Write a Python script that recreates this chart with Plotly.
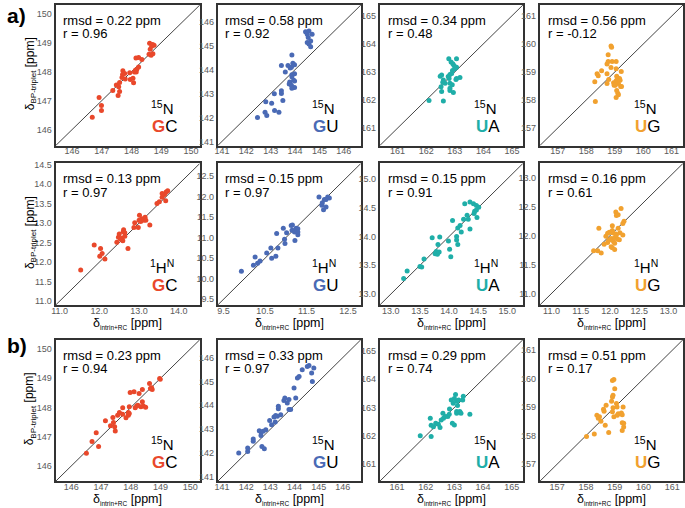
import plotly.graph_objects as go

# ---------------- data ----------------
# a) 15N
a_gc_n_x = [146.68,146.91,146.99,146.99,147.37,147.49,147.55,147.60,147.60,147.57,147.68,147.70,147.71,147.77,147.79,147.94,147.96,148.07,148.05,148.10,148.13,148.16,148.18,148.24,148.15,148.24,148.35,148.61,148.71,148.63,148.59,148.66,148.72,148.76,148.68]
a_gc_n_y = [146.43,147.11,146.83,146.66,147.35,147.54,147.18,147.32,147.63,147.48,147.80,147.90,148.03,147.94,147.75,147.96,147.73,147.62,147.77,147.99,148.05,147.99,148.08,148.16,148.47,148.49,148.42,148.98,148.94,148.77,148.60,148.57,148.62,148.91,148.88]
a_gu_n_x = [142.46,142.77,142.84,142.80,143.04,143.16,143.34,143.15,143.44,143.44,143.50,143.44,143.60,143.71,143.80,143.87,143.91,143.94,143.87,143.87,143.76,143.78,143.94,143.98,143.98,143.87,143.85,143.98,143.98,143.85,144.43,144.50,144.57,144.54,144.50,144.57,144.64,144.64,144.70]
a_gu_n_y = [142.00,142.22,142.09,142.66,142.60,142.29,142.22,142.99,143.12,143.01,142.71,144.17,143.90,144.17,144.07,144.61,144.27,144.20,143.79,143.70,143.40,143.49,143.56,143.53,143.26,143.22,143.35,143.83,144.21,144.10,145.58,145.48,145.61,145.34,145.13,145.07,144.96,145.20,145.48]
a_ua_n_x = [162.10,162.60,162.54,162.52,162.49,162.54,162.60,162.58,162.66,162.80,162.83,162.83,162.83,162.95,162.79,162.87,162.93,163.06,163.06,163.00,162.92,162.83,162.77,162.89,163.06,163.18,163.04,162.91,162.97]
a_ua_n_y = [161.98,161.97,162.30,162.47,162.85,162.89,162.71,162.63,162.60,162.77,162.60,162.42,162.34,162.27,163.47,163.35,163.29,163.47,163.17,163.11,163.05,162.91,162.84,162.94,162.77,162.80,162.73,162.54,163.23]
a_ug_n_x = [158.32,158.30,158.38,158.42,158.54,158.73,158.73,158.79,158.73,158.77,158.91,158.87,158.77,158.87,158.89,159.05,159.05,158.96,158.98,159.05,159.07,159.10,159.17,159.19,159.23,159.13,159.21,159.07,159.11,159.13,159.05,159.24,159.02]
a_ug_n_y = [157.95,158.65,158.94,158.87,159.05,158.94,158.59,158.73,159.29,159.38,159.38,159.16,159.62,159.93,159.89,159.38,159.12,158.62,158.53,158.69,158.85,158.77,158.77,158.71,159.02,158.59,158.48,158.34,158.24,158.19,158.09,158.48,158.53]

# a) 1H
a_gc_h_x = [11.53,11.87,12.03,12.07,12.01,12.14,12.44,12.48,12.50,12.53,12.57,12.59,12.60,12.64,12.64,12.61,12.72,12.87,12.89,12.98,13.00,13.01,13.07,13.04,13.12,13.15,13.17,13.27,13.45,13.51,13.58,13.64,13.68,13.58,13.67,13.72]
a_gc_h_y = [11.80,12.44,12.35,12.22,12.15,12.08,12.51,12.64,12.72,12.59,12.61,12.55,12.78,12.75,12.66,12.83,12.35,12.89,13.01,12.89,13.07,13.20,13.11,13.04,13.07,13.15,13.07,12.95,13.50,13.55,13.66,13.73,13.80,13.76,13.57,13.83]
a_gu_h_x = [9.93,10.22,10.26,10.32,10.38,10.54,10.64,10.66,10.76,10.81,10.78,10.94,10.97,10.98,11.02,11.13,11.16,11.15,11.21,11.22,11.25,11.27,11.29,11.22,11.29,11.29,11.80,11.87,11.88,11.93,11.91,11.97,12.01,12.05,11.97]
a_gu_h_y = [10.18,10.33,10.53,10.38,10.43,10.63,10.75,10.50,10.55,10.75,11.10,11.23,10.96,10.86,11.12,11.30,11.31,11.18,11.14,11.18,11.23,11.15,11.22,10.93,11.07,11.14,11.99,11.79,11.85,11.93,11.68,11.75,11.99,11.97,11.93]
a_ua_h_x = [13.22,13.28,13.50,13.53,13.57,13.71,13.76,13.80,13.78,13.83,13.81,13.84,13.99,14.01,14.03,14.06,14.13,14.13,14.15,14.15,14.19,14.21,14.25,14.27,14.31,14.33,14.36,14.36,14.43,14.42,14.44,14.47,14.48,14.51,14.47]
a_ua_h_y = [13.27,13.40,13.48,13.47,13.61,13.98,13.70,13.69,13.74,13.73,13.86,13.99,13.92,13.78,13.65,14.28,14.00,13.94,14.15,13.86,14.19,14.08,14.30,14.57,14.37,14.30,14.13,14.60,14.40,14.57,14.44,14.54,14.33,14.51,14.46]
a_ug_h_x = [11.72,11.79,11.85,11.81,11.90,11.93,11.96,11.98,11.96,11.99,12.02,12.02,12.04,12.04,12.05,12.06,12.08,12.08,12.10,12.11,12.13,12.14,12.10,12.11,12.14,12.19,12.16,12.17,12.22,12.24,12.22,12.04,12.08]
a_ug_h_y = [11.74,11.74,11.70,12.13,11.85,11.99,11.88,11.92,12.04,12.06,11.95,11.81,12.17,12.09,12.05,11.90,11.97,11.87,12.03,12.01,11.94,12.13,12.41,12.35,12.36,12.47,11.93,12.05,12.01,12.25,12.21,11.79,11.76]

# b) 15N
b_gc_n_x = [146.51,146.70,146.84,146.92,147.15,147.32,147.40,147.42,147.46,147.48,147.56,147.62,147.73,147.73,147.84,147.92,147.92,147.95,147.98,147.95,148.11,148.15,148.20,148.24,148.28,148.34,148.39,148.39,148.42,148.50,148.63,148.66,148.70,148.72,148.97,148.99]
b_gc_n_y = [146.44,146.84,147.14,146.67,147.55,147.38,147.66,147.49,147.34,147.20,147.74,147.83,147.77,147.99,147.65,147.83,147.74,148.03,148.51,147.80,148.54,147.99,148.05,148.08,148.48,148.03,148.20,148.62,148.05,148.01,148.82,148.65,148.68,148.62,148.99,148.97]
b_gu_n_x = [141.69,142.06,142.06,142.29,142.29,142.54,142.61,142.61,142.65,142.75,142.70,142.81,142.97,143.05,143.15,143.20,143.22,143.29,143.33,143.33,143.43,143.56,143.60,143.70,143.77,143.77,143.84,143.98,144.05,144.12,144.19,144.32,144.53,144.60,144.71,144.74,144.80]
b_gu_n_y = [142.00,142.21,142.07,142.59,142.50,142.93,142.88,142.74,142.28,142.18,142.91,142.98,143.36,143.19,143.51,143.30,143.57,143.54,143.86,143.96,143.61,144.20,144.31,144.10,143.82,144.24,143.82,144.73,144.31,145.14,145.21,145.49,145.63,145.67,145.35,145.00,145.56]
b_ua_n_x = [161.81,162.19,162.16,162.19,162.27,162.35,162.44,162.50,162.54,162.62,162.60,162.68,162.77,162.82,162.89,162.83,162.96,163.00,163.04,163.08,163.11,163.00,162.93,163.08,163.08,163.19,163.23,163.31,163.54,163.29,163.15]
b_ua_n_y = [162.00,161.98,162.62,162.37,162.32,162.44,162.41,162.29,162.56,162.62,162.80,162.68,162.68,162.76,163.26,162.95,163.15,163.32,163.46,163.23,163.07,162.38,162.44,162.80,162.86,162.86,162.80,163.40,162.76,163.26,163.26]
b_ug_n_x = [158.02,158.29,158.38,158.47,158.52,158.43,158.61,158.63,158.70,158.67,158.79,158.89,158.92,158.94,158.92,158.97,159.00,158.94,158.97,159.06,159.08,159.09,159.12,159.23,159.26,159.29,159.26,159.31,159.26,159.31,158.92]
b_ug_n_y = [157.97,158.06,158.72,158.66,158.51,158.61,158.93,158.86,159.07,158.37,158.11,159.21,159.36,159.42,159.94,159.97,159.65,158.98,158.66,159.13,159.01,158.72,158.77,158.80,158.73,159.01,158.45,158.44,158.18,158.30,158.84]

# statistics shown in panels
rmsd_vals = ["0.22", "0.58", "0.34", "0.56", "0.13", "0.15", "0.15", "0.16", "0.23", "0.33", "0.29", "0.51"]
r_vals = ["0.96", "0.92", "0.48", "-0.12", "0.97", "0.97", "0.91", "0.61", "0.94", "0.97", "0.74", "0.17"]

# axis ranges (equal on x and y) and tick values
ranges = [[145.45, 150.3], [140.83, 146.7], [160.38, 165.38], [156.37, 161.4],
          [10.9, 14.53], [9.36, 12.81], [12.81, 15.27], [10.8, 13.25],
          [145.48, 150.32], [140.82, 146.75], [160.4, 165.39], [156.4, 161.37]]
n_gc_ticks = [146, 147, 148, 149, 150]
n_gu_ticks = [141, 142, 143, 144, 145, 146]
n_ua_ticks = [161, 162, 163, 164, 165]
n_ug_ticks = [157, 158, 159, 160, 161]
h_gc_xticks = [11.0, 12.0, 13.0, 14.0]
h_gc_yticks = [11.0, 11.5, 12.0, 12.5, 13.0, 13.5, 14.0, 14.5]
h_gu_xticks = [9.5, 10.5, 11.5, 12.5]
h_gu_yticks = [9.5, 10.0, 10.5, 11.0, 11.5, 12.0, 12.5]
h_ua_ticks = [13.0, 13.5, 14.0, 14.5, 15.0]
h_ug_ticks = [11.0, 11.5, 12.0, 12.5, 13.0]

pairs = [("G", "C"), ("G", "U"), ("U", "A"), ("U", "G")]
colors = ["#E9482B", "#4A6AB5", "#1FAEA8", "#F1A12F"]

# ---------------- figure ----------------
W, H = 685, 508
col_px = [(52, 197), (215, 359), (378, 522), (539, 683)]
row_px = [(1, 143), (161, 304), (339, 482)]

xs = [a_gc_n_x, a_gu_n_x, a_ua_n_x, a_ug_n_x, a_gc_h_x, a_gu_h_x, a_ua_h_x, a_ug_h_x,
      b_gc_n_x, b_gu_n_x, b_ua_n_x, b_ug_n_x]
ys = [a_gc_n_y, a_gu_n_y, a_ua_n_y, a_ug_n_y, a_gc_h_y, a_gu_h_y, a_ua_h_y, a_ug_h_y,
      b_gc_n_y, b_gu_n_y, b_ua_n_y, b_ug_n_y]
xticks = [n_gc_ticks, n_gu_ticks, n_ua_ticks, n_ug_ticks,
          h_gc_xticks, h_gu_xticks, h_ua_ticks, h_ug_ticks,
          n_gc_ticks, n_gu_ticks, n_ua_ticks, n_ug_ticks]
yticks = [n_gc_ticks, n_gu_ticks, n_ua_ticks, n_ug_ticks,
          h_gc_yticks, h_gu_yticks, h_ua_ticks, h_ug_ticks,
          n_gc_ticks, n_gu_ticks, n_ua_ticks, n_ug_ticks]

FONT = "Liberation Sans, Arial, sans-serif"
fig = go.Figure()
layout = dict(width=W, height=H, margin=dict(l=0, r=0, t=0, b=0),
              paper_bgcolor="white", plot_bgcolor="white", showlegend=False,
              font=dict(family=FONT, color="black"))
annotations = []
shapes = []

for i in range(12):
    row, col = divmod(i, 4)
    n = i + 1
    xa = "x" if n == 1 else f"x{n}"
    ya = "y" if n == 1 else f"y{n}"
    x0, x1 = col_px[col]
    y0, y1 = row_px[row]
    rng = ranges[i]
    hformat = ".1f" if row == 1 else "d"
    axis_common = dict(range=rng, showgrid=False, zeroline=False, showline=True,
                       mirror=True, linecolor="#333333", linewidth=2, ticks="",
                       tickfont=dict(size=9, color="#5a5a5a", family=FONT),
                       tickformat=hformat)
    layout["xaxis" if n == 1 else f"xaxis{n}"] = dict(
        axis_common, domain=[x0 / W, x1 / W], anchor=ya, tickvals=xticks[i],
        ticklabelstandoff=-4)
    layout["yaxis" if n == 1 else f"yaxis{n}"] = dict(
        axis_common, domain=[1 - y1 / H, 1 - y0 / H], anchor=xa, tickvals=yticks[i],
        ticklabelstandoff=0)

    # diagonal y = x
    shapes.append(dict(type="line", xref=xa, yref=ya, x0=rng[0], y0=rng[0], x1=rng[1], y1=rng[1],
                       line=dict(color="#444444", width=1), layer="below"))

    fig.add_trace(go.Scatter(x=xs[i], y=ys[i], mode="markers", xaxis=xa, yaxis=ya,
                             marker=dict(size=5, color=colors[col], line=dict(width=0))))

    dref_x = f"{xa} domain"
    dref_y = f"{ya} domain"
    annotations.append(dict(xref=dref_x, yref=dref_y, x=0.04, y=0.89, xanchor="left", yanchor="middle",
                            text=f"rmsd = {rmsd_vals[i]} ppm", showarrow=False,
                            font=dict(size=13, color="black")))
    annotations.append(dict(xref=dref_x, yref=dref_y, x=0.04, y=0.795, xanchor="left", yanchor="middle",
                            text=f"r = {r_vals[i]}", showarrow=False,
                            font=dict(size=13, color="black")))
    nuc = "<sup>1</sup>H<sup>N</sup>" if row == 1 else "<sup>15</sup>N"
    annotations.append(dict(xref=dref_x, yref=dref_y, x=0.74, y=0.27, xanchor="center", yanchor="middle",
                            text=nuc, showarrow=False, font=dict(size=15, color="black")))
    p = pairs[col]
    annotations.append(dict(xref=dref_x, yref=dref_y, x=0.757, y=0.135, xanchor="center", yanchor="middle",
                            text=f"<span style='color:{colors[col]}'><b>{p[0]}</b></span>{p[1]}",
                            showarrow=False, font=dict(size=17, color="black")))

# axis titles
ytitle = "δ<sub><span style='font-size:8px'>BP-triplet</span></sub> [ppm]"
xtitle = "δ<sub><span style='font-size:6.5px'>intrin+RC</span></sub> [ppm]"
for row in range(3):
    y0, y1 = row_px[row]
    annotations.append(dict(xref="paper", yref="paper", x=27 / W, y=1 - ((y0 + y1) / 2 - 2) / H,
                            xanchor="center", yanchor="middle", textangle=-90, showarrow=False,
                            text=ytitle, font=dict(size=12, color="black")))
for row, ty in [(1, 323), (2, 500)]:
    for col in range(4):
        x0, x1 = col_px[col]
        annotations.append(dict(xref="paper", yref="paper", x=(x0 + x1) / 2 / W, y=1 - ty / H,
                                xanchor="center", yanchor="middle", showarrow=False,
                                text=xtitle, font=dict(size=12.5, color="black")))

# panel letters
annotations.append(dict(xref="paper", yref="paper", x=1 / W, y=1 - 12 / H, xanchor="left", yanchor="middle",
                        text="<b>a)</b>", showarrow=False, font=dict(size=21, color="black")))
annotations.append(dict(xref="paper", yref="paper", x=1 / W, y=1 - 345 / H, xanchor="left", yanchor="middle",
                        text="<b>b)</b>", showarrow=False, font=dict(size=21, color="black")))

layout["annotations"] = annotations
layout["shapes"] = shapes
fig.update_layout(**layout)
fig.write_html("out.html", config={"displayModeBar": False},
               post_script="document.body.style.margin='0';document.body.style.padding='0';"
                           "document.body.style.overflow='hidden';")
